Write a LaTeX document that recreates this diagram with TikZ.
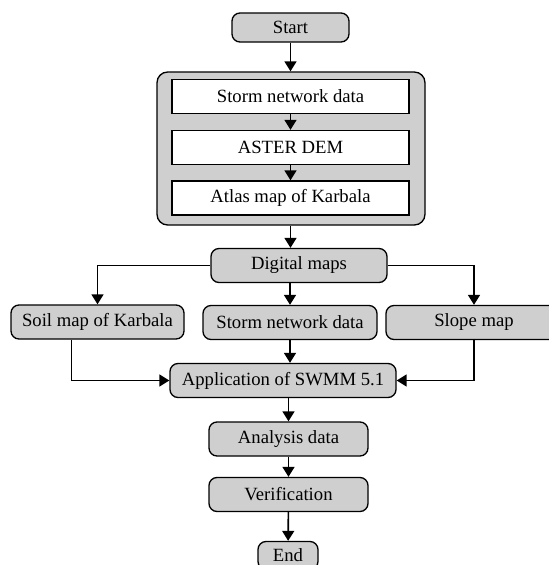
\documentclass[tikz,border=0pt]{standalone}
\usepackage{fontspec}
\setmainfont{Liberation Serif}
\usetikzlibrary{arrows.meta}

\begin{document}
\begin{tikzpicture}[x=0.75pt,y=-0.75pt]
  % Parameters
  \def\boxh{25.5pt}
  \def\linew{1.2pt}

  % Styles
  \tikzset{
    stepbox/.style={draw, line width=1pt, fill=black!19, rounded corners=6pt,
      minimum height=\boxh, inner sep=0pt, font=\fontsize{14}{16}\selectfont},
    inbox/.style={draw, line width=1pt, fill=white, minimum width=177.75pt,
      minimum height=\boxh, inner sep=0pt, font=\fontsize{14}{16}\selectfont},
    flow/.style={line width=\linew, -{Triangle[width=9pt,length=7.5pt]}},
    plain/.style={line width=\linew}
  }

  \useasboundingbox (0,0) rectangle (549,565);

  % Start and data group
  \node[stepbox, minimum width=87.75pt, minimum height=21.75pt] (start) at (290.5,27.5) {Start};
  \node[draw, line width=1pt, fill=black!19, rounded corners=8pt,
    minimum width=201pt, minimum height=114.75pt] (group) at (291,148.5) {};
  \node[inbox] (storm) at (290.5,96.5) {Storm network data};
  \node[inbox] (aster) at (290.5,147.5) {ASTER DEM};
  \node[inbox] (atlas) at (290.5,198) {Atlas map of Karbala};

  % Digital maps and its three outputs
  \node[stepbox, minimum width=132pt] (digital) at (299,265.5) {Digital maps};
  \node[stepbox, minimum width=129.75pt] (soil) at (97.5,322) {Soil map of Karbala};
  \node[stepbox, minimum width=130.5pt] (network) at (290,322.5) {Storm network data};
  \node[stepbox, minimum width=132pt] (slope) at (474,322.5) {Slope map};

  % SWMM and the end of the chain
  \node[stepbox, minimum width=169.5pt] (swmm) at (283,380.5) {Application of SWMM 5.1};
  \node[stepbox, minimum width=119.25pt] (analysis) at (288.5,439) {Analysis data};
  \node[stepbox, minimum width=119.25pt] (verif) at (288.5,494.5) {Verification};
  \node[stepbox, minimum width=45pt, minimum height=21pt] (end) at (288,555.5) {End};

  % Connectors
  \draw[flow] (start) -- (start |- group.north);
  \draw[flow] (storm) -- (aster);
  \draw[flow] (aster) -- (atlas);
  \draw[flow] (start |- group.south) -- (start |- digital.north);
  \draw[flow] (digital.west) -| (soil.north);
  \draw[flow] (network.north |- digital.south) -- (network.north);
  \draw[flow] (digital.east) -| (slope.north);
  \draw[flow] ([xshift=-19.5pt]soil.south) |- (swmm.west);
  \draw[flow] (network.south) -- (network.south |- swmm.north);
  \draw[flow] (slope.south) |- (swmm.east);
  \draw[flow] (analysis.north |- swmm.south) -- (analysis.north);
  \draw[flow] (analysis) -- (verif);
  \draw[flow] (verif) -- (end);
\end{tikzpicture}
\end{document}
